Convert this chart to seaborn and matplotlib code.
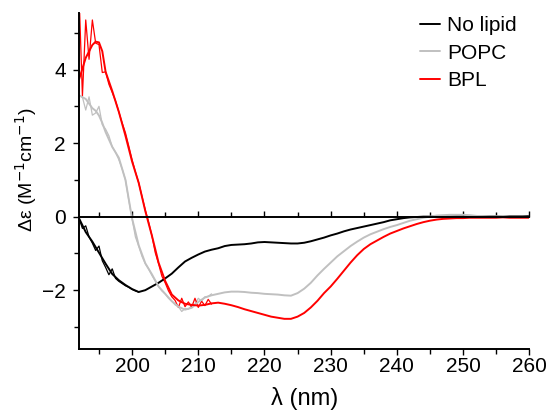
import numpy as np
import pandas as pd
import matplotlib
matplotlib.use("Agg")
import matplotlib.pyplot as plt
from matplotlib.ticker import MultipleLocator
import seaborn as sns

# ---------------- data ----------------
samples = ["No lipid", "POPC", "BPL"]
colors = ["#000000", "#c0c0c0", "#ff0000"]

wl_smooth = [192, 193, 194, 194.5, 195, 195.5] + list(range(196, 261))

nolipid_smooth = [-0.05, -0.42, -0.68, -0.83, -0.98, -1.13,
                  -1.28, -1.56, -1.73, -1.86, -1.97, -2.05, -2.0, -1.9, -1.8, -1.68,
                  -1.55, -1.38, -1.22, -1.12, -1.03, -0.95, -0.9, -0.86, -0.8, -0.77,
                  -0.76, -0.75, -0.73, -0.7, -0.69, -0.7, -0.71, -0.72, -0.73, -0.73,
                  -0.71, -0.67, -0.62, -0.57, -0.51, -0.46, -0.4, -0.35, -0.31, -0.27,
                  -0.23, -0.19, -0.15, -0.1, -0.07, -0.04, -0.02, -0.01, 0.0, 0.0,
                  0.01, 0.01, 0.0, 0.01, 0.01, 0.0, 0.0, 0.0, 0.01, 0.01,
                  0.0, 0.01, 0.01, 0.01, 0.02]

popc_smooth = [3.3, 3.2, 2.95, 2.88, 2.75, 2.55,
               2.3, 1.9, 1.6, 1.0, -0.05, -0.78, -1.27, -1.57, -1.9, -2.1,
               -2.3, -2.45, -2.53, -2.48, -2.32, -2.2, -2.14, -2.1, -2.06, -2.04,
               -2.04, -2.05, -2.07, -2.08, -2.1, -2.11, -2.12, -2.14, -2.15, -2.08,
               -1.96, -1.8, -1.6, -1.42, -1.25, -1.08, -0.94, -0.8, -0.68, -0.57,
               -0.48, -0.41, -0.34, -0.28, -0.23, -0.17, -0.11, -0.07, -0.03, 0.0,
               0.03, 0.04, 0.05, 0.05, 0.05, 0.04, 0.02, 0.01, 0.01, 0.01,
               0.01, 0.0, 0.0, 0.0, 0.0]

bpl_smooth = [3.74, 4.32, 4.67, 4.76, 4.74, 4.5,
              3.94, 3.42, 2.85, 2.2, 1.5, 0.92, 0.15, -0.52, -1.25, -1.75,
              -2.12, -2.28, -2.37, -2.4, -2.42, -2.4, -2.36, -2.34, -2.37, -2.41,
              -2.46, -2.52, -2.57, -2.62, -2.67, -2.72, -2.75, -2.78, -2.78, -2.72,
              -2.62, -2.47, -2.29, -2.08, -1.9, -1.69, -1.47, -1.25, -1.05, -0.88,
              -0.75, -0.65, -0.55, -0.46, -0.39, -0.32, -0.26, -0.2, -0.15, -0.11,
              -0.08, -0.06, -0.05, -0.04, -0.04, -0.03, -0.03, -0.03, -0.03, -0.03,
              -0.02, -0.03, -0.03, -0.03, -0.03]

# raw (unsmoothed) traces, 0.5 nm steps, over the noisy short-wavelength region
wl_raw_nolipid = [192.0, 192.5, 193.0, 193.5, 194.0, 194.5, 195.0, 195.5, 196.0, 196.5,
                  197.0, 197.5, 198.0, 198.5, 199.0, 199.5, 200.0, 200.5, 201.0]
nolipid_raw = [-0.05, -0.32, -0.25, -0.55, -0.72, -0.92, -0.8, -1.2, -1.38, -1.58,
               -1.42, -1.68, -1.76, -1.82, -1.88, -1.92, -1.98, -2.02, -2.05]

wl_raw = [192.0, 192.5, 193.0, 193.5, 194.0, 194.5, 195.0, 195.5, 196.0, 196.5,
          197.0, 197.5, 198.0, 198.5, 199.0, 199.5, 200.0, 200.5, 201.0, 201.5,
          202.0, 202.5, 203.0, 203.5, 204.0, 204.5, 205.0, 205.5, 206.0, 206.5,
          207.0, 207.5, 208.0, 208.5, 209.0, 209.5, 210.0, 210.5, 211.0, 211.5, 212.0]
popc_raw = [3.3, 3.25, 2.9, 3.26, 2.76, 2.82, 3.0, 2.5, 2.38, 2.2,
            1.9, 1.75, 1.55, 1.3, 1.0, 0.45, -0.05, -0.55, -0.8, -1.08,
            -1.28, -1.42, -1.6, -1.75, -1.9, -2.02, -2.1, -2.22, -2.3, -2.4,
            -2.45, -2.58, -2.5, -2.52, -2.42, -2.38, -2.22, -2.3, -2.18, -2.17, -2.1]
bpl_raw = [6.0, 3.28, 5.35, 4.28, 5.35, 4.72, 4.68, 3.92, 3.94, 3.6,
           3.38, 3.15, 2.85, 2.55, 2.28, 1.92, 1.55, 1.22, 0.92, 0.55,
           0.18, -0.15, -0.52, -0.98, -1.28, -1.62, -1.8, -2.02, -2.18, -2.28,
           -2.47, -2.22, -2.45, -2.32, -2.46, -2.22, -2.47, -2.3, -2.42, -2.25, -2.38]

# ---------------- tables ----------------
smooth_df = pd.concat([
    pd.DataFrame({"wl": wl_smooth, "de": nolipid_smooth, "sample": "No lipid"}),
    pd.DataFrame({"wl": wl_smooth, "de": popc_smooth, "sample": "POPC"}),
    pd.DataFrame({"wl": wl_smooth, "de": bpl_smooth, "sample": "BPL"}),
], ignore_index=True)
raw_df = pd.concat([
    pd.DataFrame({"wl": wl_raw_nolipid, "de": nolipid_raw, "sample": "No lipid"}),
    pd.DataFrame({"wl": wl_raw, "de": popc_raw, "sample": "POPC"}),
    pd.DataFrame({"wl": wl_raw, "de": bpl_raw, "sample": "BPL"}),
], ignore_index=True)

# ---------------- plot ----------------
sns.set_style("ticks")
plt.rcParams["font.family"] = ["Liberation Sans", "DejaVu Sans"]
plt.rcParams["axes.unicode_minus"] = True
for k in ["text.color", "axes.labelcolor", "xtick.color", "ytick.color",
          "xtick.labelcolor", "ytick.labelcolor"]:
    plt.rcParams[k] = "black"

fig = plt.figure(figsize=(5.46, 4.11), dpi=100)
ax = fig.add_axes([0.1449, 0.1509, 0.8245, 0.8175])

palette = dict(zip(samples, colors))
sns.lineplot(data=raw_df, x="wl", y="de", hue="sample", hue_order=samples,
             palette=palette, estimator=None, sort=False, linewidth=0.9,
             legend=False, ax=ax)
sns.lineplot(data=smooth_df, x="wl", y="de", hue="sample", hue_order=samples,
             palette=palette, estimator=None, sort=False, linewidth=1.4,
             ax=ax)

ax.set_xlim(192, 260)
ax.set_ylim(-3.6, 5.54)

ax.xaxis.set_major_locator(MultipleLocator(10))
ax.xaxis.set_minor_locator(MultipleLocator(5))
ax.yaxis.set_major_locator(MultipleLocator(2))
ax.yaxis.set_minor_locator(MultipleLocator(1))

# zero line drawn as the (relocated) top spine with ticks
ax.spines["right"].set_visible(False)
ax.spines["top"].set_position(("data", 0))
for s in ["left", "bottom", "top"]:
    ax.spines[s].set_linewidth(1.4)
    ax.spines[s].set_color("black")

ax.tick_params(axis="both", which="major", direction="out", length=4.5, width=1.0,
               labelsize=15, color="black", labelcolor="black")
ax.tick_params(axis="both", which="minor", direction="out", length=3.5, width=1.0,
               color="black")
ax.tick_params(axis="x", which="major", pad=1)
ax.tick_params(axis="y", which="major", pad=5)
ax.tick_params(axis="x", which="both", top=True, labeltop=False)

ax.set_xlabel("λ (nm)", fontsize=17, labelpad=8)
ax.set_ylabel("Δε (M$^{-1}$cm$^{-1}$)", fontsize=14)
ax.yaxis.set_label_coords(-0.09, 0.533)

handles, labels = ax.get_legend_handles_labels()
ax.legend(handles, labels, loc="upper right", frameon=False, fontsize=15,
          handlelength=0.95, handletextpad=0.35, labelspacing=0.42,
          borderaxespad=0.0, bbox_to_anchor=(0.991, 1.016))

fig.savefig("out.png", dpi=100)
